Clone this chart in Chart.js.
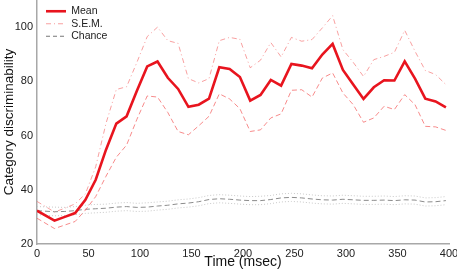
<!DOCTYPE html>
<html>
<head>
<meta charset="utf-8">
<script src="https://cdn.jsdelivr.net/npm/chart.js@4.4.1/dist/chart.umd.min.js"></script>
<style>
html,body{margin:0;padding:0;background:#fff;}
#wrap{width:457px;height:272px;position:relative;}
</style>
</head>
<body>
<div id="wrap"><canvas id="c" width="457" height="272"></canvas></div>
<script>
// Time points (msec)
const times = [0,17,27,37,47,57,67,77,87,97,107,117,127,137,147,157,167,177,187,197,207,217,227,237,247,257,267,277,287,297,307,317,327,337,347,357,367,377,387,397];
// Mean category discriminability
const meanVals = [32.3,28.6,30.0,31.4,36.3,43.7,54.8,64.4,67.1,76.5,85.5,87.3,81.3,77.2,70.6,71.4,73.6,85.2,84.6,81.6,72.9,75.0,80.5,78.4,86.4,85.8,84.8,89.9,93.8,84.2,78.8,73.5,77.8,80.4,80.3,87.4,81.0,73.6,72.6,70.4];
// Mean + S.E.M.
const semUpper = [35.7,31.8,33.2,34.8,38.5,48.5,64.5,77.0,78.0,87.0,96.5,100.0,95.0,94.0,81.0,79.4,81.0,95.0,96.2,95.5,85.0,87.8,94.3,89.0,96.2,94.8,95.4,99.7,104.2,91.7,87.0,81.8,88.0,89.2,90.7,98.8,91.1,84.0,82.5,78.8];
// Mean - S.E.M.
const semLower = [29.5,25.7,27.0,28.3,32.5,37.5,45.0,52.0,56.5,66.0,74.6,74.2,68.5,61.5,60.3,63.6,67.1,75.4,73.5,69.9,61.5,62.1,66.5,68.0,76.7,76.9,74.2,81.2,83.1,75.7,71.4,64.9,66.5,70.8,69.6,75.1,71.4,63.4,63.2,61.9];
// Chance level and its S.E.M. band
const chanceVals = [32.3,31.9,32.0,32.3,32.8,33.0,33.2,33.6,33.8,33.5,33.6,34.0,34.3,34.8,35.1,35.6,36.4,36.7,36.5,36.2,36.0,36.0,36.4,37.0,37.2,37.0,36.6,36.3,36.2,36.5,36.3,36.1,36.1,36.2,36.0,36.3,36.2,35.5,35.6,36.0];
const chanceUpper = [33.8,33.6,33.5,33.8,34.3,34.6,34.7,35.1,35.3,35.0,35.2,35.5,35.8,36.3,36.6,37.1,37.9,38.2,38.0,37.7,37.5,37.6,37.9,38.5,38.7,38.5,38.1,37.8,37.7,38.0,37.8,37.6,37.6,37.7,37.5,37.8,37.7,37.0,37.1,37.5];
const chanceLower = [30.8,30.4,30.5,30.8,31.3,31.5,31.7,32.1,32.3,32.0,32.1,32.5,32.8,33.3,33.6,34.1,34.9,35.2,35.0,34.7,34.5,34.5,34.9,35.5,35.7,35.5,35.1,34.8,34.7,35.0,34.8,34.6,34.6,34.7,34.5,34.8,34.7,34.0,34.1,34.5];
// Axis ticks
const xTicks = [0,50,100,150,200,250,300,350,400];
const yTicks = [20,40,60,80,100];

const pts = arr => arr.map((v,i)=>({x:times[i], y:v}));
const FONT = "'Liberation Sans', Arial, Helvetica, sans-serif";

const base = {pointRadius:0, fill:false, tension:0, borderCapStyle:'butt'};
const datasets = [
  Object.assign({}, base, {label:'Mean', data:pts(meanVals), borderColor:'#e8141e', backgroundColor:'#e8141e', borderWidth:2.6}),
  Object.assign({}, base, {label:'S.E.M.', data:pts(semUpper), borderColor:'rgba(245,120,120,0.7)', backgroundColor:'rgba(0,0,0,0)', borderWidth:1, borderDash:[5,3,1,3]}),
  Object.assign({}, base, {label:'S.E.M. lower', data:pts(semLower), borderColor:'rgba(245,110,110,0.8)', backgroundColor:'rgba(0,0,0,0)', borderWidth:1, borderDash:[5,3]}),
  Object.assign({}, base, {label:'Chance', data:pts(chanceVals), borderColor:'#8c8c8c', backgroundColor:'rgba(0,0,0,0)', borderWidth:1, borderDash:[5,3]}),
  Object.assign({}, base, {label:'Chance S.E.M. upper', data:pts(chanceUpper), borderColor:'#c8c8c8', backgroundColor:'rgba(0,0,0,0)', borderWidth:1, borderDash:[1,2]}),
  Object.assign({}, base, {label:'Chance S.E.M. lower', data:pts(chanceLower), borderColor:'#c8c8c8', backgroundColor:'rgba(0,0,0,0)', borderWidth:1, borderDash:[1,2]})
];

const legendNudge = {
  id:'legendNudge',
  afterLayout(chart){ if(chart.legend){ chart.legend.left += 7; chart.legend.top += 4; } }
};

new Chart(document.getElementById('c'), {
  type:'line',
  data:{datasets},
  plugins:[legendNudge],
  options:{
    responsive:false, animation:false, devicePixelRatio:1,
    layout:{padding:0},
    plugins:{
      tooltip:{enabled:false},
      legend:{
        position:'chartArea', align:'start',
        labels:{
          filter:(item)=>['Mean','S.E.M.','Chance'].includes(item.text),
          generateLabels:(chart)=>{
            const items = Chart.defaults.plugins.legend.labels.generateLabels(chart);
            items.forEach(it=>{
              if(it.text==='S.E.M.'){ it.lineDash=[5,3,1,3]; }
              if(it.text==='Chance'){ it.lineDash=[4,3]; it.strokeStyle='#777'; }
            });
            return items;
          },
          usePointStyle:true, pointStyle:'line', pointStyleWidth:20, boxHeight:10,
          padding:2, color:'#222', font:{family:FONT, size:10.5}
        }
      }
    },
    scales:{
      x:{
        type:'linear', min:0, max:400,
        afterBuildTicks:(s)=>{ s.ticks = xTicks.map(v=>({value:v})); },
        afterFit:(s)=>{ s.height = 28; s.paddingLeft = 0; s.paddingRight = 8; },
        grid:{display:true, color:'rgba(0,0,0,0)', drawTicks:false},
        border:{display:true, color:'#a8a8a8', width:1.5},
        ticks:{padding:3.5, color:'#222', font:{family:FONT, size:11}, maxRotation:0},
        title:{display:true, text:'Time (msec)', color:'#111', font:{family:FONT, size:14}, padding:{top:0,bottom:1}}
      },
      y:{
        type:'linear', min:20, max:110,
        afterBuildTicks:(s)=>{ s.ticks = yTicks.map(v=>({value:v})); },
        afterFit:(s)=>{ s.width = 37; s.paddingTop = 0; s.paddingBottom = 0; },
        grid:{display:true, color:'rgba(0,0,0,0)', drawTicks:false},
        border:{display:true, color:'#a8a8a8', width:1.5},
        ticks:{padding:4, color:'#222', font:{family:FONT, size:11}},
        title:{display:true, text:'Category discriminability', color:'#111', font:{family:FONT, size:13.5}, padding:{top:1.5,bottom:0}}
      }
    }
  }
});
</script>
</body>
</html>
